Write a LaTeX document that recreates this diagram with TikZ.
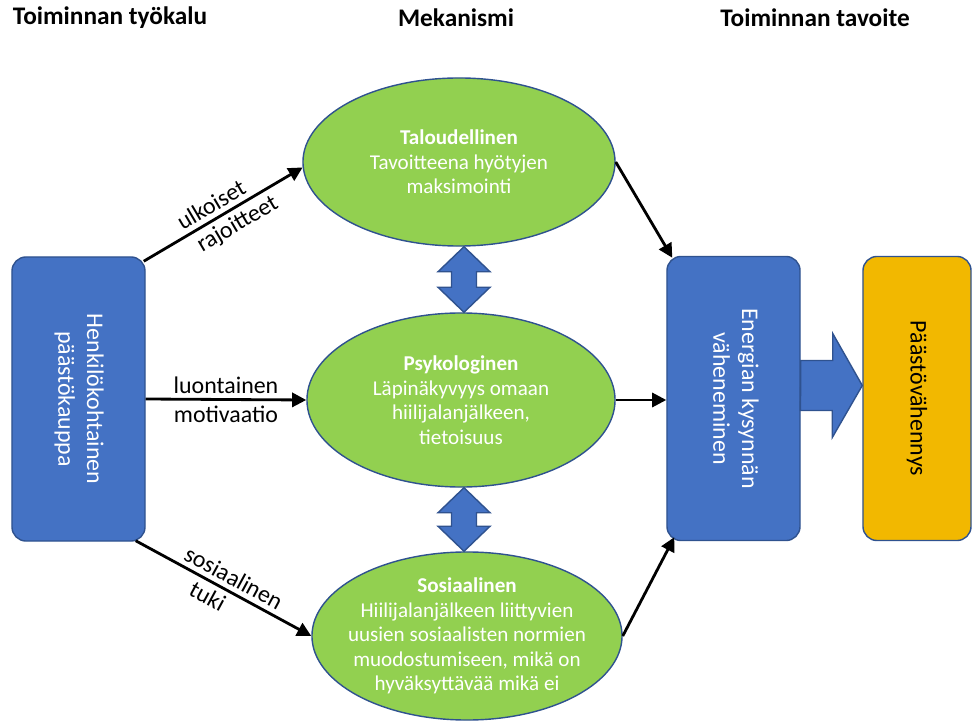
\documentclass[tikz,border=0pt]{standalone}
\usepackage{fontspec}
\setmainfont{Carlito}
\usepackage{xcolor}
\usepackage{graphicx}
\usepackage{tikz}
\usetikzlibrary{shapes.geometric, arrows, arrows.meta, positioning, calc}

\definecolor{boxblue}{HTML}{4472C4}
\definecolor{edgeblue}{HTML}{2F528F}
\definecolor{leafgreen}{HTML}{92D050}
\definecolor{goldfill}{HTML}{F2B800}

\tikzstyle{heading} = [inner sep=0pt,
font=\fontsize{18}{22}\selectfont\bfseries]
\tikzstyle{tool} = [rectangle, rounded corners=10pt,
minimum width=3.325cm,
minimum height=7.1cm,
draw=edgeblue, line width=1pt,
fill=boxblue, text=white,
font=\fontsize{17}{20.5}\selectfont]
\tikzstyle{goal} = [tool, fill=goldfill, text=black,
minimum width=2.7cm]
\tikzstyle{mechanism} = [ellipse,
minimum width=7.8cm,
minimum height=4.2cm,
inner xsep=-8pt, inner ysep=0pt,
align=center,
draw=edgeblue, line width=1pt,
fill=leafgreen, text=white,
font=\fontsize{15}{17.5}\selectfont]
\tikzstyle{arrowtext} = [font=\fontsize{17}{20.5}\selectfont]
\tikzstyle{arrow} = [line width=2pt,-{Triangle[length=10pt,width=10pt]}]
\tikzstyle{fatarrow} = [draw=edgeblue, line width=1pt, fill=boxblue]

\begin{document}
\begin{tikzpicture}[x=0.025cm, y=-0.025cm]
            \useasboundingbox (0,0) rectangle (973,727);

            % otsikot
            \node (head1) [heading] at (110,18) {Toiminnan työkalu};
            \node (head2) [heading] at (456,18) {Mekanismi};
            \node (head3) [heading] at (815,18) {Toiminnan tavoite};

            \node (in1) [tool] at (78.5,399) {\rotatebox{-90}{\begin{tabular}{@{}c@{}}Henkilökohtainen\\päästökauppa\end{tabular}}};
            \node (mek1) [mechanism] at (459,162) {\textbf{Taloudellinen}\\Tavoitteena hyötyjen\\maksimointi};
            \node (mek2) [mechanism, minimum width=7.7cm, minimum height=4.35cm] at (461,400) {\textbf{Psykologinen}\\Läpinäkyvyys omaan\\hiilijalanjälkeen,\\tietoisuus};
            \node (mek3) [mechanism, minimum width=7.75cm] at (467,636) {\textbf{Sosiaalinen}\\Hiilijalanjälkeen liittyvien\\uusien sosiaalisten normien\\muodostumiseen, mikä on\\hyväksyttävää mikä ei};
            \node (pro1) [tool] at (733.5,398.5) {\rotatebox{-90}{\begin{tabular}{@{}c@{}}Energian kysynnän\\väheneminen\end{tabular}}};
            \node (out1) [goal] at (917,398.5) {\rotatebox{-90}{Päästövähennys}};

            \draw [arrow] ($(in1.north east)+(-2,5)$) -- node[above, sloped, arrowtext, pos=0.47] {ulkoiset} node[below, sloped, arrowtext, pos=0.54] {rajoitteet} (mek1.182);
            \draw [arrow] (in1.east) -- node[above, arrowtext] {luontainen} node[below, arrowtext] {motivaatio} (mek2.west);
            \draw [arrow] ($(in1.south east)+(-10,-1)$) -- node[above, sloped, arrowtext, pos=0.52] {sosiaalinen} node[below, sloped, arrowtext, pos=0.45] {tuki} (mek3.west);

            \draw [arrow] (mek1.east) -- ($(pro1.north west)+(6,2)$);
            \draw [arrow] (mek2.east) -- (mek2.east -| pro1.west);
            \draw [arrow] (mek3.east) -- ($(pro1.south west)+(8,-4)$);

            % kaksisuuntaiset nuolet
            \coordinate (d1t) at ($(mek1.south)+(5,0)$);
            \coordinate (d1b) at (d1t |- mek2.north);
            \draw [fatarrow] (d1t) -- ++(26,25) -- ++(-13.5,0) -- ($(d1b)+(12.5,-25)$) -- ++(13.5,0) -- (d1b) -- ++(-26,-25) -- ++(13.5,0) -- ($(d1t)+(-12.5,25)$) -- ++(-13.5,0) -- cycle;
            \coordinate (d2t) at (d1t |- mek2.south);
            \coordinate (d2b) at (d1t |- mek3.north);
            \draw [fatarrow] (d2t) -- ++(26,25) -- ++(-13.5,0) -- ($(d2b)+(12.5,-25)$) -- ++(13.5,0) -- (d2b) -- ++(-26,-25) -- ++(13.5,0) -- ($(d2t)+(-12.5,25)$) -- ++(-13.5,0) -- cycle;

            \coordinate (fa) at ($(pro1.east)+(0,-13)$);
            \draw [fatarrow] (fa) -- ++(0,-25) -- ++(32,0) -- ++(0,-27) -- (fa -| out1.west) -- ++(-30,52) -- ++(0,-27) -- ++(-32,0) -- cycle;
        \end{tikzpicture}
\end{document}
